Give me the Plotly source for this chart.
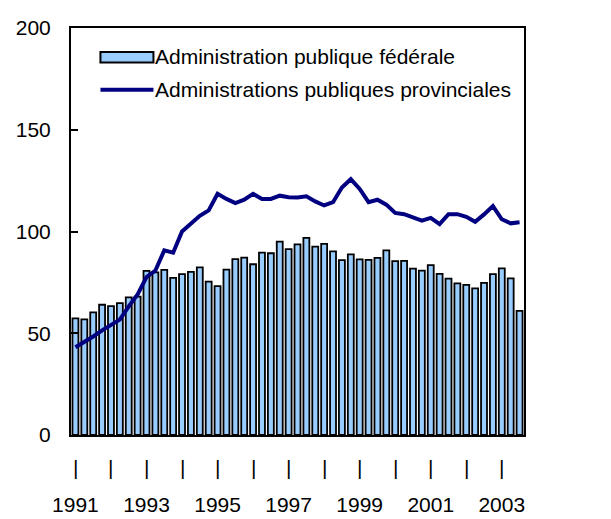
import plotly.graph_objects as go

quarters = list(range(51))  # 1991Q1 .. 2003Q3
federal = [57.3, 56.8, 60.3, 64.0, 63.3, 64.8, 67.6, 68.0, 80.7, 79.9, 81.1, 77.2, 79.1, 80.2, 82.4, 75.4,
           73.2, 81.3, 86.4, 87.2, 83.9, 89.6, 89.3, 95.0, 91.3, 93.7, 96.9, 92.6, 93.9, 90.2, 85.9, 88.8,
           86.3, 86.1, 87.0, 90.7, 85.4, 85.6, 81.8, 80.8, 83.5, 79.2, 76.8, 74.5, 73.8, 72.1, 74.8, 79.1,
           81.9, 77.0, 61.0]
provincial = [43.1, 45.5, 48.4, 51.4, 54.3, 56.7, 63.2, 69.1, 77.6, 80.8, 90.7, 89.6, 100.0, 104.0, 107.7, 110.4,
              118.5, 116.0, 114.0, 115.6, 118.5, 116.0, 116.0, 117.6, 116.8, 116.7, 117.3, 114.8, 112.8, 114.4, 121.6, 125.7,
              120.9, 114.4, 115.6, 113.2, 109.1, 108.5, 106.9, 105.3, 106.7, 103.6, 108.5, 108.5, 107.2, 104.8, 108.4, 112.5,
              106.0, 104.0, 104.5]
year_ticks = [0, 8, 16, 24, 32, 40, 48]
year_labels = ["1991", "1993", "1995", "1997", "1999", "2001", "2003"]
bar_ticks = list(range(0, 51, 4))
series_names = ["Administration publique fédérale", "Administrations publiques provinciales"]

FONT = "Liberation Sans, Arial, sans-serif"
FS = 21

fig = go.Figure()
fig.add_trace(go.Bar(x=quarters, y=federal, name=series_names[0],
                     marker=dict(color="#99CCFF", line=dict(color="black", width=1.8)),
                     showlegend=False))
fig.add_trace(go.Scatter(x=quarters, y=provincial, name=series_names[1], mode="lines",
                         line=dict(color="#000080", width=4), showlegend=False))

# "|" markers below the axis at each year
for q in bar_ticks:
    fig.add_annotation(x=q, xref="x", y=-0.079, yref="paper", text="|", showarrow=False,
                       yanchor="middle", font=dict(family=FONT, size=FS, color="black"))

# manual legend
fig.add_shape(type="rect", xref="paper", yref="paper", x0=0.065, x1=0.182, y0=0.941, y1=0.915,
              fillcolor="#99CCFF", line=dict(color="black", width=2))
fig.add_shape(type="line", xref="paper", yref="paper", x0=0.065, x1=0.182, y0=0.848, y1=0.848,
              line=dict(color="#000080", width=4))
fig.add_annotation(x=0.181, y=0.929, xref="paper", yref="paper", text=series_names[0], showarrow=False,
                   xanchor="left", yanchor="middle", font=dict(family=FONT, size=FS, color="black"))
fig.add_annotation(x=0.181, y=0.848, xref="paper", yref="paper", text=series_names[1], showarrow=False,
                   xanchor="left", yanchor="middle", font=dict(family=FONT, size=FS, color="black"))

fig.update_layout(
    width=611, height=519,
    margin=dict(l=48, r=95, t=8, b=92),
    plot_bgcolor="white", paper_bgcolor="white",
    bargap=0.33,
    font=dict(family=FONT, size=FS, color="black"),
    xaxis=dict(range=[-0.5, 50.5], tickvals=year_ticks, ticktext=year_labels, ticks="",
               showline=True, linecolor="black", linewidth=2, mirror=True, showgrid=False,
               zeroline=False, ticklabelstandoff=50, ticklabeloverflow="allow"),
    yaxis=dict(range=[0, 200], tickvals=[0, 50, 100, 150, 200], ticks="inside", ticklen=7,
               tickwidth=2, tickcolor="black", showline=True, linecolor="black", linewidth=2,
               mirror=True, showgrid=False, zeroline=False, ticklabelstandoff=14,
               ticklabeloverflow="allow"),
)
fig.write_html("out.html")
